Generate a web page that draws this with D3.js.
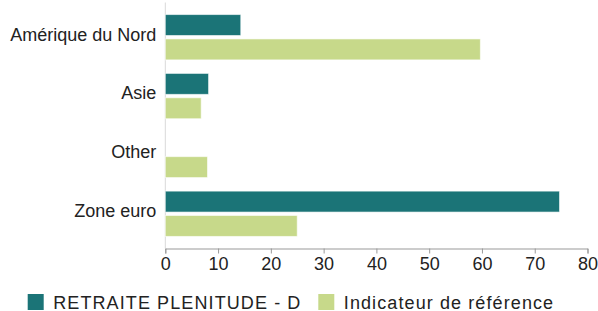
<!DOCTYPE html>
<html>
<head>
<meta charset="utf-8">
<script src="https://cdn.jsdelivr.net/npm/d3@7"></script>
<style>
  body { margin: 0; background: #fff; }
  text { font-family: "Liberation Sans", Arial, sans-serif; fill: #222; }
</style>
</head>
<body>
<div id="chart"></div>
<script>
// categories and series
var categories = ["Amérique du Nord", "Asie", "Other", "Zone euro"];
var seriesNames = ["RETRAITE PLENITUDE - D", "Indicateur de référence"];
var fundValues = [14.3, 8.2, null, 74.7];
var benchValues = [59.7, 6.8, 8.0, 25.0];
var xTicks = [0, 10, 20, 30, 40, 50, 60, 70, 80];
var colors = ["#1b7477", "#c7d98a"];

var margin = { left: 165.3, right: 10.5, top: 2.5, bottom: 62.5 };
var width = 598 - margin.left - margin.right;
var height = 311 - margin.top - margin.bottom;

var data = categories.map(function(c, i){
    return { cat: c, values: [fundValues[i], benchValues[i]] };
});

var svg = d3.select("#chart")
    .append("svg")
    .attr("width", 598)
    .attr("height", 311)
    .append("g")
    .attr("transform", "translate(" + margin.left + "," + margin.top + ")");

var x = d3.scaleLinear().domain([0, 80]).range([0, width]);

var y = d3.scaleBand()
    .domain(categories)
    .range([0, height])
    .paddingInner(0.23)
    .paddingOuter(0.205);

var ySub = d3.scaleBand()
    .domain([0, 1])
    .range([0, y.bandwidth()])
    .paddingInner(0.14);

// left baseline
svg.append("line")
    .attr("x1", 0).attr("x2", 0)
    .attr("y1", 0).attr("y2", height)
    .style("stroke", "#d9d9d9")
    .style("stroke-width", 1);

// bars
var groups = svg.selectAll(".grp")
    .data(data)
    .enter().append("g")
    .attr("class", "grp")
    .attr("transform", function(d){ return "translate(0," + y(d.cat) + ")"; });

groups.selectAll("rect")
    .data(function(d){
        return d.values.map(function(v, i){ return { v: v, s: i }; })
            .filter(function(e){ return e.v != null; });
    })
    .enter().append("rect")
    .attr("x", x(0))
    .attr("y", function(d){ return ySub(d.s); })
    .attr("width", function(d){ return x(d.v) - x(0); })
    .attr("height", ySub.bandwidth())
    .style("fill", function(d){ return colors[d.s]; })
    .style("stroke", "#fff")
    .style("stroke-opacity", 0.6)
    .style("stroke-width", 1);

// category labels
svg.selectAll(".cat-label")
    .data(categories)
    .enter().append("text")
    .attr("class", "cat-label")
    .attr("x", -9)
    .attr("y", function(d){ return y(d) + y.bandwidth() / 2 - 3; })
    .attr("dy", "0.35em")
    .attr("text-anchor", "end")
    .style("font-size", "18px")
    .text(function(d){ return d; });

// x axis
var gX = svg.append("g")
    .attr("class", "x axis")
    .attr("transform", "translate(0," + height + ")")
    .call(d3.axisBottom(x).tickValues(xTicks).tickSize(5).tickPadding(4).tickSizeOuter(5));

gX.select(".domain").style("stroke", "#999");
gX.selectAll(".tick line").style("stroke", "#999");
gX.selectAll(".tick text")
    .style("font-size", "18px")
    .style("font-family", "'Liberation Sans', Arial, sans-serif")
    .style("fill", "#222");

// legend
var legendPos = [27.7, 318.3];
var legend = d3.select("#chart svg").selectAll(".legend")
    .data(seriesNames)
    .enter().append("g")
    .attr("class", "legend")
    .attr("transform", function(d, i){ return "translate(" + legendPos[i] + ",294)"; });

legend.append("rect")
    .attr("width", 16)
    .attr("height", 16)
    .style("fill", function(d, i){ return colors[i]; });

legend.append("text")
    .attr("x", 25.5)
    .attr("y", 14.5)
    .style("font-size", "18px")
    .style("letter-spacing", "1.1px")
    .text(function(d){ return d; });
</script>
</body>
</html>
